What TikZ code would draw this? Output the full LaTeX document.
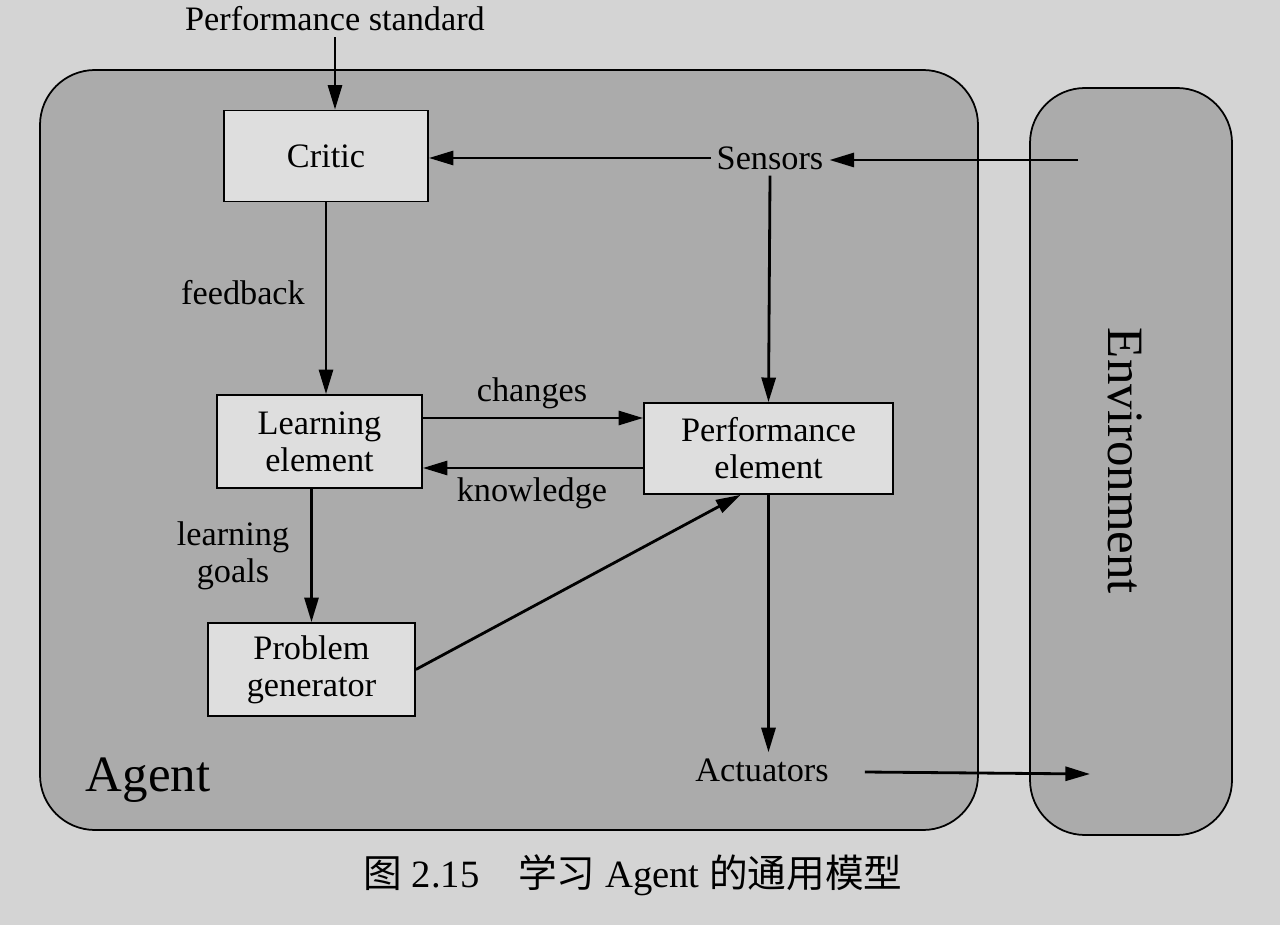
\documentclass[tikz,border=0pt]{standalone}
\usepackage{fontspec}
\setmainfont{Liberation Serif}
\newfontfamily\cjk{Noto Sans CJK SC}
\usetikzlibrary{arrows.meta}

\definecolor{paper}{HTML}{D4D4D4}
\definecolor{shade}{HTML}{ABABAB}
\definecolor{boxfill}{HTML}{DEDEDE}

\begin{document}
\begin{tikzpicture}[x=0.02cm,y=-0.02cm,
  every node/.style={font=\fontsize{19.5}{21}\selectfont, align=center},
  unit/.style={draw, fill=boxfill, line width=1pt, inner sep=0pt},
  arr/.style={-{Triangle[length=14pt,width=8pt]}, line width=1.6pt},
  region/.style={draw, line width=1pt, fill=shade, rounded corners=1.1cm}]
\useasboundingbox[fill=paper] (0,0) rectangle (1280,925);
% agent and environment
\draw[region] (40,70) rectangle (978,830);
\draw[region] (1030,88) rectangle (1232,835);
\node[font=\fontsize{29}{30}\selectfont] (agent) at (148,780) {Agent};
\node[font=\fontsize{29}{30}\selectfont, rotate=-90] (env) at (1125,461) {Environment};
% boxes
\node[unit, minimum width=4.08cm, minimum height=1.82cm] (critic) at (326,156) {Critic};
\node[unit, minimum width=4.1cm, minimum height=1.86cm] (learn) at (319.5,441.5) {Learning\\element};
\node[unit, minimum width=4.98cm, minimum height=1.82cm] (perf) at (768.5,448.5) {Performance\\element};
\node[unit, minimum width=4.14cm, minimum height=1.86cm] (prob) at (311.5,669.5) {Problem\\generator};
% plain labels
\node (std) at (335,19) {Performance standard};
\node (sens) at (770,158) {Sensors};
\node (act) at (762,770) {Actuators};
\node (fb) at (243,293) {feedback};
\node (goals) at (233,556) {learning\\goals};
\node (chg) at (532,393) {changes};
\node (knw) at (532,493) {knowledge};
\coordinate (envin) at (1078,160);
\coordinate (envout) at (1090,774);
% connectors
\draw[arr] (std.south) -- (std.south |- critic.north);
\draw[arr] (sens.west) -- (critic.east |- sens.west);
\draw[arr] (envin) -- (envin -| sens.east);
\draw[arr] (sens.south) -- (perf.north);
\draw[arr] (critic.south) -- (critic.south |- learn.north);
\draw[arr] ([yshift=0.47cm]learn.east) -- ([yshift=0.47cm]learn.east -| perf.west);
\draw[arr] ([yshift=-0.39cm]perf.west) -- ([yshift=-0.39cm]perf.west -| learn.east);
\draw[arr] (prob.north |- learn.south) -- (prob.north);
\draw[arr] (prob.east) -- ([xshift=-0.56cm]perf.south);
\draw[arr] (perf.south) -- (perf.south |- act.north);
\draw[arr] ([xshift=0.6cm,yshift=-0.04cm]act.east) -- (envout);
% caption
\node[font=\fontsize{22}{24}\selectfont] (cap) at (633,875) {{\cjk 图} 2.15\quad{\cjk 学习} Agent {\cjk 的通用模型}};
\end{tikzpicture}
\end{document}
